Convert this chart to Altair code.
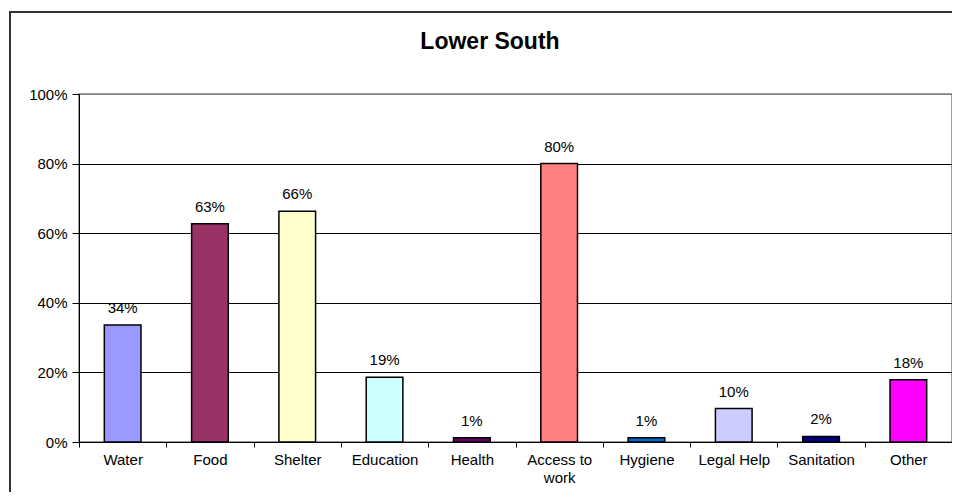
import altair as alt
import pandas as pd

categories = ["Water", "Food", "Shelter", "Education", "Health",
              "Access to work", "Hygiene", "Legal Help", "Sanitation", "Other"]
values = [0.336, 0.627, 0.663, 0.186, 0.012, 0.80, 0.012, 0.096, 0.016, 0.179]
colors = ["#9999FF", "#993366", "#FFFFCC", "#CCFFFF", "#660066",
          "#FF8080", "#0066CC", "#CCCCFF", "#000080", "#FF00FF"]
y_ticks = [0, 0.2, 0.4, 0.6, 0.8, 1.0]
title_text = ["Lower South"]

df = pd.DataFrame({"cat": categories, "val": values, "col": colors})

FONT = "Liberation Sans"

x_enc = alt.X("cat:N", sort=categories, title=None,
              scale=alt.Scale(paddingInner=0, paddingOuter=0),
              axis=alt.Axis(labelAngle=0, tickBand="extent", grid=False,
                            domainColor="black", tickColor="black", tickSize=5,
                            labelPadding=5, labelFontSize=15, labelColor="black",
                            labelFont=FONT, labelLineHeight=18,
                            labelExpr="datum.value == 'Access to work' ? ['Access to', 'work'] : datum.value"))
y_enc = alt.Y("val:Q", title=None,
              scale=alt.Scale(domain=[0, 1], nice=False),
              axis=alt.Axis(values=y_ticks, format=".0%", grid=True,
                            gridColor=alt.condition("datum.value == 1", alt.value("#808080"), alt.value("black")),
                            gridWidth=1, domainColor="black", tickColor="black",
                            tickSize=7, labelPadding=5, labelFontSize=15,
                            labelColor="black", labelFont=FONT))

bars = alt.Chart(df).mark_bar(width=alt.RelativeBandSize(0.42), stroke="black",
                              strokeWidth=1.5).encode(
    x=x_enc, y=y_enc,
    color=alt.Color("col:N", scale=None, legend=None),
)

labels = alt.Chart(df).mark_text(baseline="alphabetic", dy=-12, fontSize=15,
                                 font=FONT, color="black").encode(
    x=alt.X("cat:N", sort=categories),
    y="val:Q",
    text=alt.Text("val:Q", format=".0%"),
)

frame = alt.Chart(pd.DataFrame({"a": [0]})).mark_rect(
    fill=None, stroke="#333333", strokeWidth=2, clip=False).encode(
    x=alt.value(-69), x2=alt.value(905), y=alt.value(-82), y2=alt.value(420))

title = alt.Chart(pd.DataFrame({"t": title_text})).mark_text(
    fontSize=23, fontWeight="bold", font=FONT, color="black",
    baseline="alphabetic", align="center").encode(
    text="t:N", x=alt.value(411), y=alt.value(-45))

chart = alt.layer(frame, bars, labels, title).properties(
    width=873, height=348,
    autosize=alt.AutoSizeParams(type="none"),
    padding={"left": 71, "top": 86, "right": 0, "bottom": 50},
).configure_view(stroke="#808080", strokeWidth=1.5)

chart.save("out.html", embed_options={"renderer": "svg", "actions": False})
